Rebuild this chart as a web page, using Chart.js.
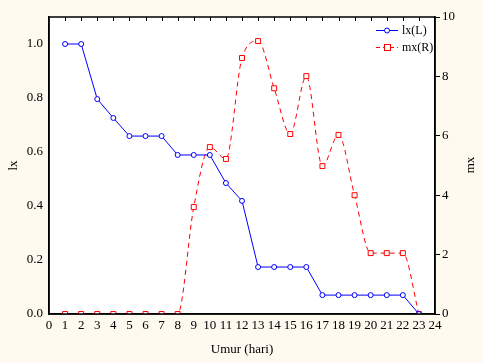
<!DOCTYPE html>
<html>
<head>
<meta charset="utf-8">
<script src="https://cdn.jsdelivr.net/npm/chart.js@4/dist/chart.umd.min.js"></script>
<style>
  html, body { margin: 0; padding: 0; background: #fffaf0; }
  #wrap { width: 483px; height: 362px; }
</style>
</head>
<body>
<div id="wrap"><canvas id="c" width="483" height="362"></canvas></div>
<script>
const days = [1, 2, 3, 4, 5, 6, 7, 8, 9, 10, 11, 12, 13, 14, 15, 16, 17, 18, 19, 20, 21, 22, 23];
const lx = [1.0, 1.0, 0.796, 0.726, 0.659, 0.659, 0.659, 0.589, 0.589, 0.589, 0.485, 0.419,
  0.174, 0.174, 0.174, 0.174, 0.07, 0.07, 0.07, 0.07, 0.07, 0.07, 0.0];
const mx = [0, 0, 0, 0, 0, 0, 0, 0, 3.6, 5.62, 5.22, 8.62, 9.19, 7.6, 6.06, 8.01, 4.98, 6.03,
  4.0, 2.05, 2.05, 2.05, 0];

const FONT = { family: '"Liberation Serif", "Times New Roman", serif', size: 13 };

// white plot area, frame, inner ticks on top, legend, right title
const decor = {
  id: 'decor',
  beforeDraw(chart) {
    const { ctx, chartArea: a } = chart;
    ctx.save();
    ctx.fillStyle = '#ffffff';
    ctx.fillRect(a.left, a.top, a.right - a.left, a.bottom - a.top);
    ctx.restore();
  },
  afterDraw(chart) {
    const { ctx, chartArea: a } = chart;
    const xs = chart.scales.x;
    ctx.save();
    ctx.strokeStyle = '#000';
    ctx.lineWidth = 1.5;
    ctx.strokeRect(a.left, a.top, a.right - a.left, a.bottom - a.top);
    ctx.lineWidth = 1;
    for (let v = 1; v < 24; v++) {
      const px = Math.round(xs.getPixelForValue(v)) + 0.5;
      ctx.beginPath();
      ctx.moveTo(px, a.top);
      ctx.lineTo(px, a.top + 4);
      ctx.stroke();
    }
    // legend
    ctx.font = '12px ' + FONT.family;
    ctx.textBaseline = 'middle';
    ctx.strokeStyle = '#0000ff';
    ctx.beginPath();
    ctx.moveTo(376, 30.5);
    ctx.lineTo(398, 30.5);
    ctx.stroke();
    ctx.fillStyle = '#fff';
    ctx.beginPath();
    ctx.arc(387, 30.5, 2.5, 0, Math.PI * 2);
    ctx.fill();
    ctx.stroke();
    ctx.strokeStyle = '#ff0000';
    ctx.setLineDash([4, 3]);
    ctx.beginPath();
    ctx.moveTo(376, 47.5);
    ctx.lineTo(398, 47.5);
    ctx.stroke();
    ctx.setLineDash([]);
    ctx.fillRect(384, 44.5, 6, 6);
    ctx.strokeRect(384.5, 44.5, 6, 6);
    ctx.fillStyle = '#000';
    ctx.fillText('lx(L)', 402, 31);
    ctx.fillText('mx(R)', 402, 48);
    // right axis title, rotated like the left one
    ctx.font = '13px ' + FONT.family;
    ctx.translate(471, 165);
    ctx.rotate(-Math.PI / 2);
    ctx.textAlign = 'center';
    ctx.fillText('mx', 0, 0);
    ctx.restore();
  }
};

new Chart(document.getElementById('c'), {
  type: 'line',
  data: {
    datasets: [
      {
        label: 'lx(L)',
        data: days.map((d, i) => ({ x: d, y: lx[i] })),
        yAxisID: 'y',
        borderColor: '#0000ff',
        borderWidth: 1,
        backgroundColor: '#ffffff',
        pointStyle: 'circle',
        pointRadius: 2.5,
        pointBorderWidth: 1,
        pointBorderColor: '#0000ff',
        tension: 0
      },
      {
        label: 'mx(R)',
        data: days.map((d, i) => ({ x: d, y: mx[i] })),
        yAxisID: 'y1',
        borderColor: '#ff0000',
        borderWidth: 1,
        borderDash: [5, 4],
        backgroundColor: '#ffffff',
        pointStyle: 'rect',
        pointRadius: 3.5,
        pointBorderWidth: 1,
        pointBorderColor: '#ff0000',
        cubicInterpolationMode: 'monotone'
      }
    ]
  },
  options: {
    responsive: false,
    animation: false,
    layout: { padding: { top: 17, left: 6, right: 0, bottom: 0 } },
    plugins: { legend: { display: false }, tooltip: { enabled: false } },
    scales: {
      x: {
        type: 'linear',
        min: 0,
        max: 24,
        grid: { display: false, drawTicks: false },
        border: { display: true, color: '#000', width: 1.5 },
        ticks: { stepSize: 1, color: '#000', font: FONT, padding: 4, maxRotation: 0, autoSkip: false },
        title: { display: true, text: 'Umur (hari)', color: '#000', font: FONT, padding: { top: 7, bottom: 5 } },
        afterFit(s) { s.height = 48; }
      },
      y: {
        position: 'left',
        min: 0,
        max: 1.1,
        grid: { display: false, drawTicks: false },
        border: { display: true, color: '#000', width: 1.5 },
        ticks: {
          stepSize: 0.2, color: '#000', font: FONT, padding: 6,
          callback: v => (v > 1.05 ? '' : v.toFixed(1))
        },
        title: { display: true, text: 'lx', color: '#000', font: FONT, padding: { top: 0, bottom: 0 } },
        afterFit(s) { s.width = 43; }
      },
      y1: {
        position: 'right',
        min: 0,
        max: 10,
        grid: { display: true, drawOnChartArea: false, drawTicks: true, tickLength: 5, color: '#000' },
        border: { display: true, color: '#000', width: 1.5 },
        ticks: { stepSize: 2, color: '#000', font: FONT, padding: 2 },
        afterFit(s) { s.width = 48; }
      }
    }
  },
  plugins: [decor]
});
</script>
</body>
</html>
